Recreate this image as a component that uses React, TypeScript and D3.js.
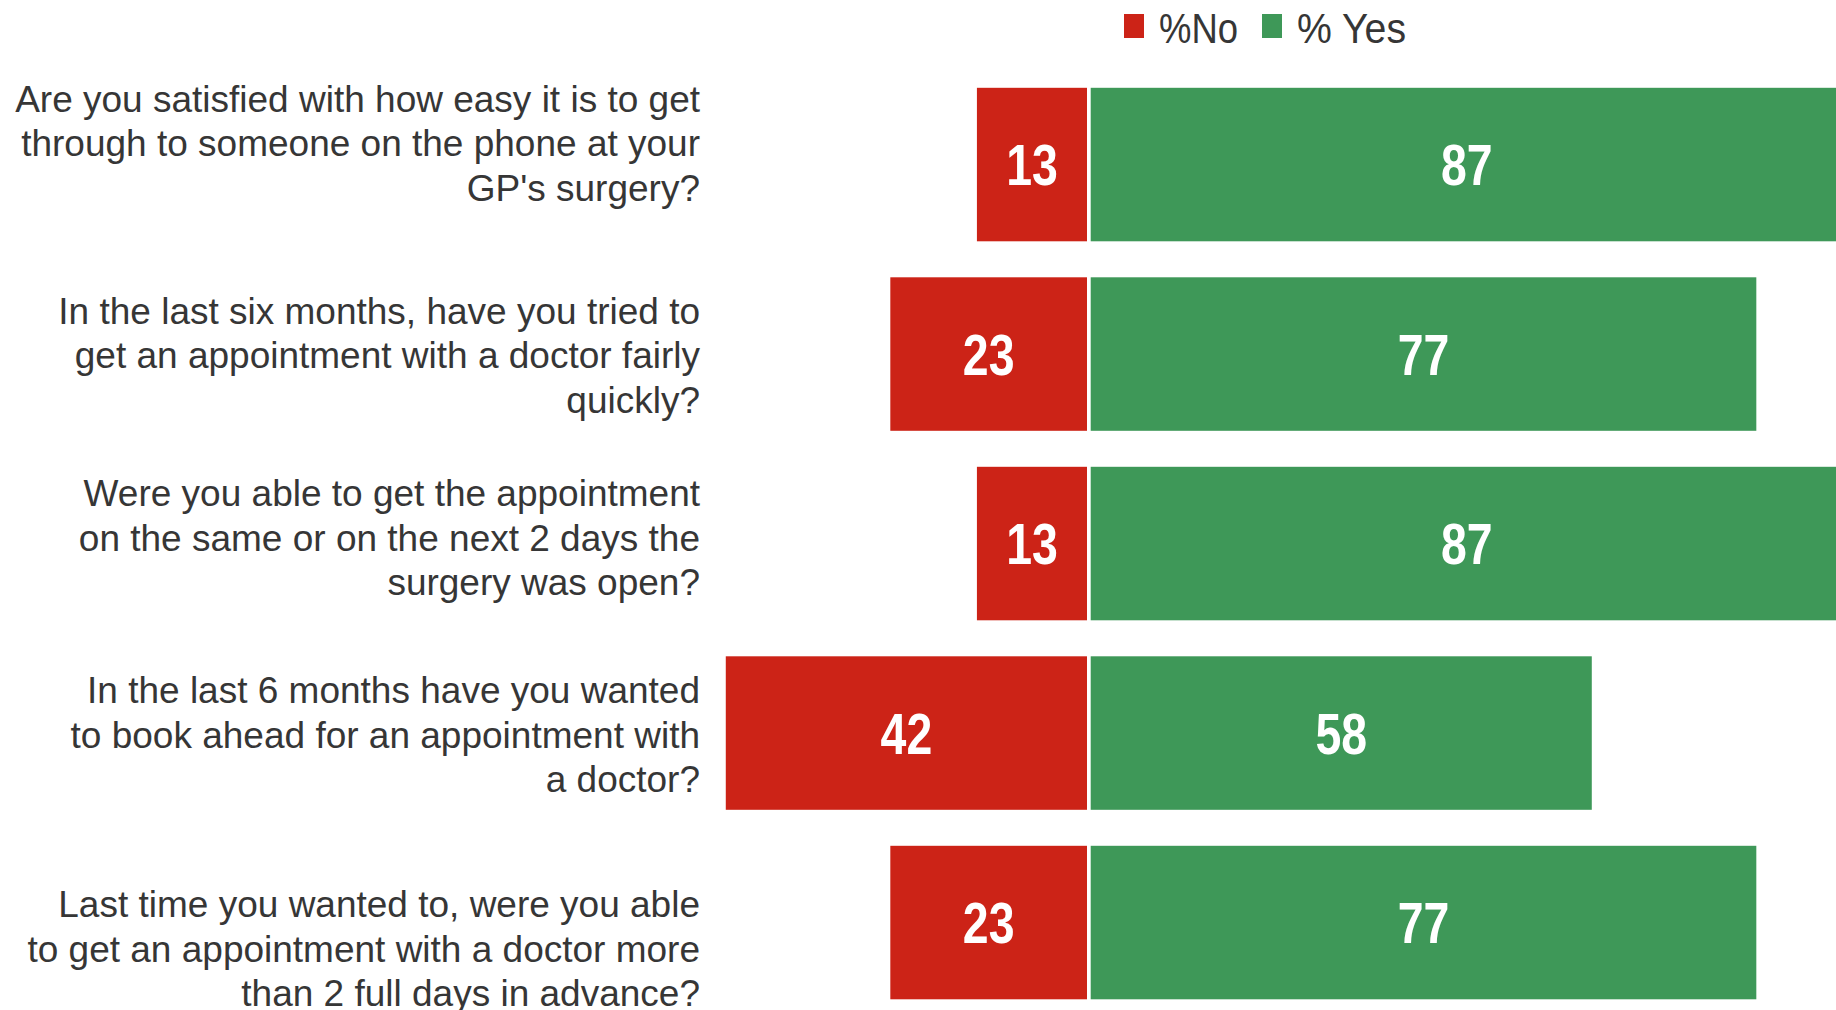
import React from "react";
import * as d3 from "d3";

const questions: string[][] = [
  ["Are you satisfied with how easy it is to get", "through to someone on the phone at your", "GP's surgery?"],
  ["In the last six months, have you tried to", "get an appointment with a doctor fairly", "quickly?"],
  ["Were you able to get the appointment", "on the same or on the next 2 days the", "surgery was open?"],
  ["In the last 6 months have you wanted", "to book ahead for an appointment with", "a doctor?"],
  ["Last time you wanted to, were you able", "to get an appointment with a doctor more", "than 2 full days in advance?"],
];
const noValues: number[] = [13, 23, 13, 42, 23];
const yesValues: number[] = [87, 77, 87, 58, 77];
const seriesNames: string[] = ["%No", "% Yes"];

// layout only
const labelShift: number[] = [-21.5, 1, -6, 1.5, 26];

const W = 1836;
const H = 1010;
const RED = "#cc2317";
const GREEN = "#3e9858";
const TEXT = "#363636";
const FONT = "'Liberation Sans', Arial, sans-serif";

export default function App() {
  const zero = 1089.5;
  const x = d3.scaleLinear().domain([-100, 100]).range([zero - 866, zero + 866]);
  const ids = questions.map((_, i) => String(i));
  const y = d3.scaleBand<string>().domain(ids).range([69.8, 1017.3]).paddingInner(0.19).paddingOuter(0.095);
  const bw = y.bandwidth();
  const lineH = 44.5;

  return (
    <div style={{ position: "fixed", left: 0, top: 0 }}>
      <svg width={W} height={H} style={{ display: "block", background: "#fff" }}>
        {/* legend */}
        <g>
          <rect x={1124} y={14} width={20} height={24} fill={RED} />
          <text x={1159} y={43.3} textLength={79} lengthAdjust="spacingAndGlyphs" fontFamily={FONT} fontSize={42} fill={TEXT}>
            {seriesNames[0]}
          </text>
          <rect x={1262} y={14} width={20} height={24} fill={GREEN} />
          <text x={1297} y={43.3} textLength={109} lengthAdjust="spacingAndGlyphs" fontFamily={FONT} fontSize={42} fill={TEXT}>
            {seriesNames[1]}
          </text>
        </g>
        {ids.map((id, i) => {
          const top = y(id)!;
          const cy = top + bw / 2;
          const redX0 = x(-noValues[i]);
          const redX1 = x(0) - 2.5;
          const grX0 = x(0) + 1.2;
          const grX1 = x(yesValues[i]);
          const midBase = cy + labelShift[i] + 13;
          return (
            <g key={id}>
              <rect x={redX0} y={top} width={redX1 - redX0} height={bw} fill={RED} />
              <rect x={grX0} y={top} width={grX1 - grX0} height={bw} fill={GREEN} />
              <text
                transform={`translate(${(redX0 + redX1) / 2},${cy + 20.5}) scale(0.8,1)`}
                textAnchor="middle"
                fontFamily={FONT}
                fontWeight="bold"
                fontSize={58}
                fill="#fff"
              >
                {noValues[i]}
              </text>
              <text
                transform={`translate(${(grX0 + grX1) / 2},${cy + 20.5}) scale(0.8,1)`}
                textAnchor="middle"
                fontFamily={FONT}
                fontWeight="bold"
                fontSize={58}
                fill="#fff"
              >
                {yesValues[i]}
              </text>
              <text textAnchor="end" fontFamily={FONT} fontSize={37} fill={TEXT}>
                {questions[i].map((line, j) => (
                  <tspan key={j} x={700} y={midBase + (j - 1) * lineH}>
                    {line}
                  </tspan>
                ))}
              </text>
            </g>
          );
        })}
      </svg>
    </div>
  );
}
